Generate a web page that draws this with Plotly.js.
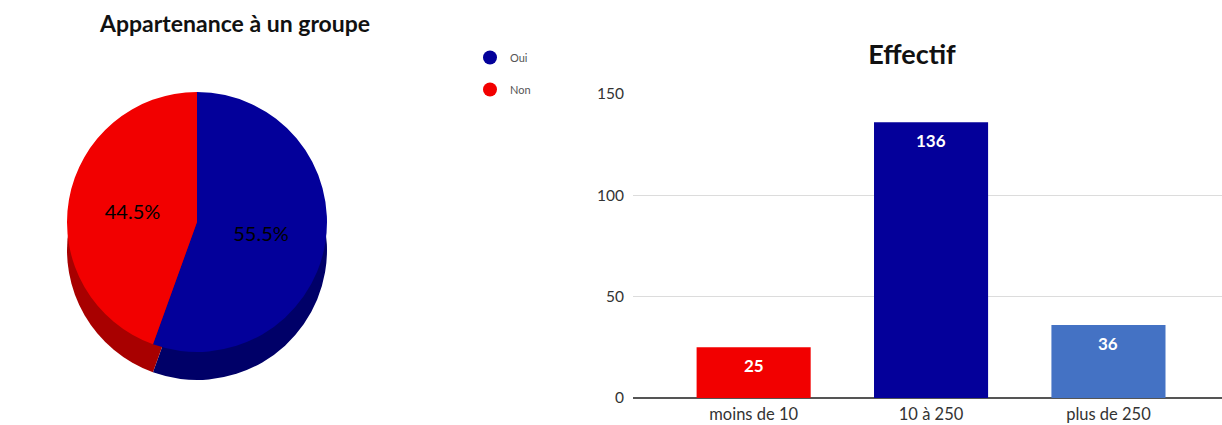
<!DOCTYPE html>
<html>
<head>
<meta charset="utf-8">
<script src="https://cdn.plot.ly/plotly-3.0.1.min.js"></script>
<style>
html,body{margin:0;padding:0;background:#fff;}
#chart{width:1222px;height:425px;}
</style>
</head>
<body>
<div id="chart"></div>
<script>
// ---- Data ----
const pieLabels = ["Oui", "Non"];
const pieValues = [55.5, 44.5];
const pieColors = ["#03009A", "#F20000"];
const pieSideColors = ["#000068", "#A80000"];

const barCategories = ["moins de 10", "10 à 250", "plus de 250"];
const barValues = [25, 136, 36];
const barColors = ["#F20000", "#04009A", "#4472C4"];

const yTicks = [0, 50, 100, 150];

const W = 1222, H = 425;
const px = v => v / W;
const py = v => 1 - v / H;

const FONT = "Lato, 'Open Sans', sans-serif";

const traces = [
  // 3D-like side of the pie (darker, shifted down)
  {
    type: "pie",
    labels: pieLabels,
    values: pieValues,
    marker: {colors: pieSideColors, line: {width: 0}},
    sort: false,
    direction: "clockwise",
    rotation: 0,
    textinfo: "none",
    hoverinfo: "skip",
    showlegend: false,
    domain: {x: [px(67), px(327)], y: [py(380), py(120)]}
  },
  // top face of the pie
  {
    type: "pie",
    labels: pieLabels,
    values: pieValues,
    marker: {colors: pieColors, line: {width: 0}},
    sort: false,
    direction: "clockwise",
    rotation: 0,
    textinfo: "percent",
    textposition: "inside",
    insidetextorientation: "horizontal",
    textfont: {family: FONT, size: 20, color: "#000"},
    showlegend: false,
    domain: {x: [px(67), px(327)], y: [py(352), py(92)]}
  },
  // bars
  {
    type: "bar",
    x: barCategories,
    y: barValues,
    marker: {color: barColors, line: {width: 0}},
    textposition: "none",
    showlegend: false,
    xaxis: "x",
    yaxis: "y"
  },
  // legend entries (circles)
  {
    type: "scatter",
    mode: "markers",
    x: [null], y: [null],
    name: pieLabels[0],
    marker: {color: pieColors[0], size: 14, symbol: "circle"},
    xaxis: "x2", yaxis: "y2",
    legend: "legend",
    hoverinfo: "skip"
  },
  {
    type: "scatter",
    mode: "markers",
    x: [null], y: [null],
    name: pieLabels[1],
    marker: {color: pieColors[1], size: 14, symbol: "circle"},
    xaxis: "x2", yaxis: "y2",
    legend: "legend2",
    hoverinfo: "skip"
  }
];

const barLabelAnnotations = barCategories.map((c, i) => ({
  x: c, y: barValues[i], xref: "x", yref: "y",
  text: "<b>" + barValues[i] + "</b>",
  showarrow: false,
  xanchor: "center", yanchor: "middle",
  yshift: -18,
  font: {family: FONT, size: 17, color: "#fff"}
}));

const layout = {
  width: W,
  height: H,
  margin: {l: 0, r: 0, t: 0, b: 0},
  paper_bgcolor: "#fff",
  plot_bgcolor: "#fff",
  font: {family: FONT, color: "#444"},
  bargap: 0.357,
  title: {
    text: "<b>Effectif</b>",
    font: {family: FONT, size: 27, color: "#111"},
    x: px(912), xanchor: "center",
    y: py(55), yanchor: "middle",
    xref: "paper", yref: "container"
  },
  xaxis: {
    domain: [px(633), 1],
    range: [-0.68, 2.64],
    type: "category",
    showgrid: false,
    showline: false,
    zeroline: false,
    ticks: "",
    ticklabelstandoff: 4,
    tickfont: {family: FONT, size: 16.5, color: "#333"},
    fixedrange: true
  },
  yaxis: {
    domain: [py(398), py(94)],
    range: [0, 150],
    tickvals: yTicks,
    ticktext: yTicks.map(String),
    showgrid: true,
    gridcolor: "#dcdcdc",
    gridwidth: 1.5,
    zeroline: true,
    zerolinecolor: "#555",
    zerolinewidth: 2,
    showline: false,
    ticks: "",
    ticklabelstandoff: 8,
    tickfont: {family: FONT, size: 15.5, color: "#333"},
    fixedrange: true
  },
  xaxis2: {domain: [0, 0.01], visible: false, range: [0, 1]},
  yaxis2: {domain: [0, 0.01], visible: false, range: [0, 1], anchor: "x2"},
  legend: {
    x: px(470), y: py(43), xanchor: "left", yanchor: "top",
    font: {family: FONT, size: 11, color: "#555"},
    bgcolor: "rgba(0,0,0,0)",
    itemwidth: 30
  },
  legend2: {
    x: px(470), y: py(75), xanchor: "left", yanchor: "top",
    font: {family: FONT, size: 11, color: "#555"},
    bgcolor: "rgba(0,0,0,0)",
    itemwidth: 30
  },
  annotations: [
    {
      text: "<b>Appartenance à un groupe</b>",
      x: px(234), y: py(23),
      xref: "paper", yref: "paper",
      xanchor: "center", yanchor: "middle",
      showarrow: false,
      font: {family: FONT, size: 23, color: "#111"}
    }
  ].concat(barLabelAnnotations),
  showlegend: true
};

Plotly.newPlot("chart", traces, layout, {displayModeBar: false, staticPlot: true});
</script>
</body>
</html>
